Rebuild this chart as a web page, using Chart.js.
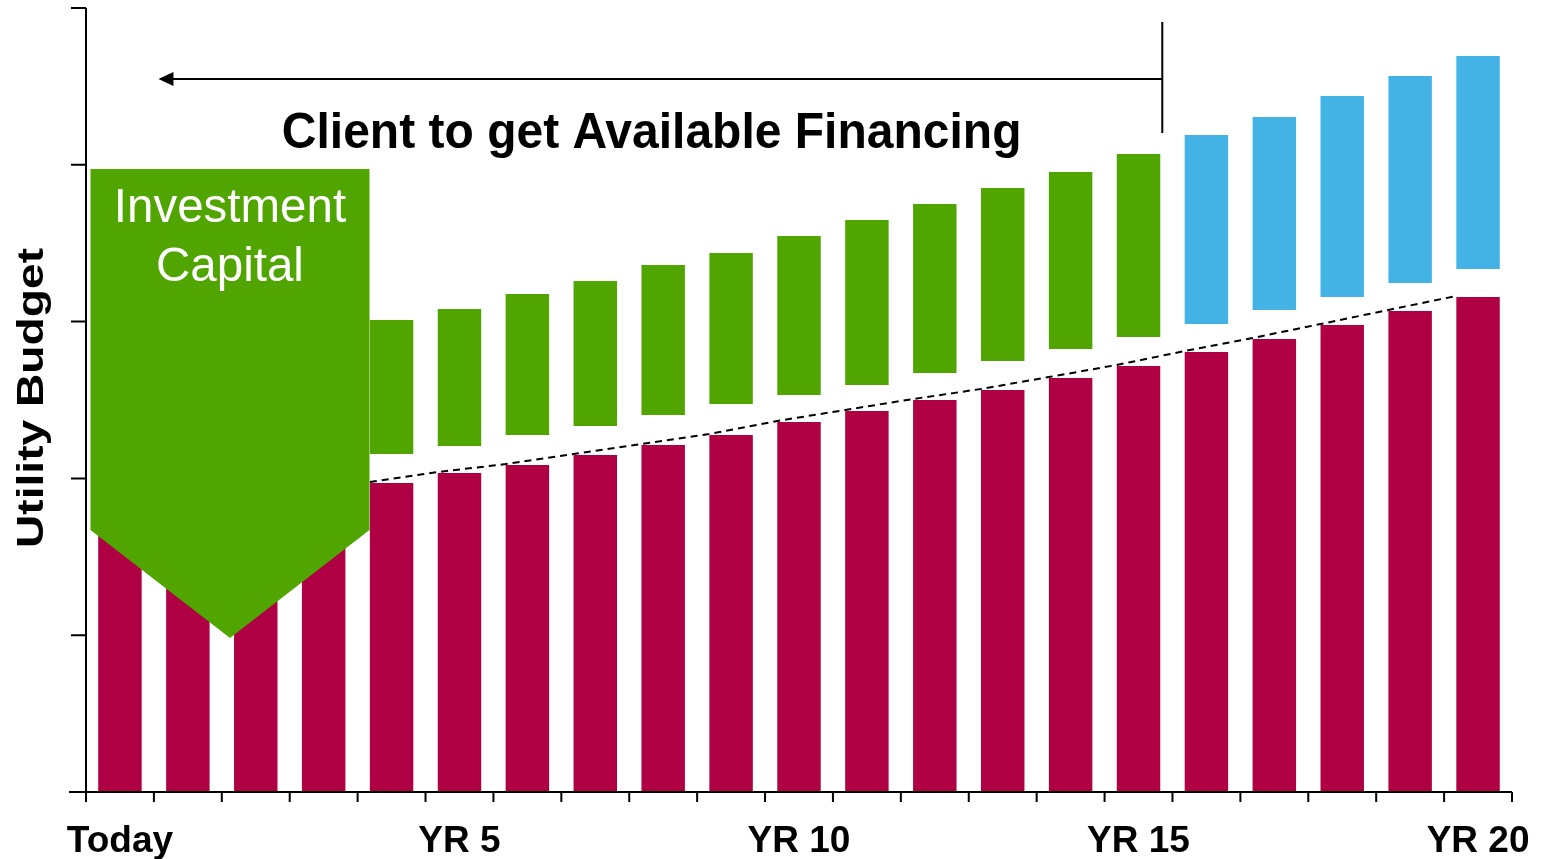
<!DOCTYPE html>
<html>
<head>
<meta charset="utf-8">
<title>Utility Budget</title>
<script src="https://cdn.jsdelivr.net/npm/chart.js@4.4.1/dist/chart.umd.min.js"></script>
<style>
  html, body { margin: 0; padding: 0; background: #fff; }
  canvas { display: block; }
</style>
</head>
<body>
<canvas id="chartBudget" width="1546" height="859"></canvas>
<script>
// Datos del gráfico
const categorias = ['Today', 'YR 1', 'YR 2', 'YR 3', 'YR 4', 'YR 5', 'YR 6', 'YR 7', 'YR 8', 'YR 9', 'YR 10',
    'YR 11', 'YR 12', 'YR 13', 'YR 14', 'YR 15', 'YR 16', 'YR 17', 'YR 18', 'YR 19', 'YR 20'];

// presupuesto base (barras rojas)
const presupuestoBase = [1.72, 1.78, 1.84, 1.905, 1.971, 2.034, 2.085, 2.149, 2.213, 2.277, 2.36,
    2.43, 2.5, 2.564, 2.64, 2.717, 2.806, 2.889, 2.978, 3.068, 3.157];

// barras flotantes verdes (financiamiento) [inferior, superior]
const financiamiento = [null, null, null, null,
    [2.156, 3.010], [2.207, 3.080], [2.277, 3.176], [2.334, 3.259], [2.404, 3.361], [2.474, 3.438],
    [2.532, 3.546], [2.596, 3.648], [2.672, 3.750], [2.749, 3.852], [2.825, 3.954], [2.902, 4.069],
    null, null, null, null, null];

// barras flotantes azules (después del año 15)
const excedente = [null, null, null, null, null, null, null, null, null, null, null,
    null, null, null, null, null,
    [2.985, 4.190], [3.074, 4.305], [3.157, 4.439], [3.246, 4.566], [3.335, 4.694]];

const etiquetasVisibles = ['Today', 'YR 5', 'YR 10', 'YR 15', 'YR 20'];
const ticksY = [0, 1, 2, 3, 4, 5];

const FUENTE = '"Liberation Sans", Arial, sans-serif';
const ROJO = '#B00044';
const VERDE = '#50A500';
const AZUL = '#43B3E6';

// Dibujo de ejes, flecha, forma "Investment Capital" y textos
const anotaciones = {
    id: 'anotaciones',
    afterDatasetsDraw(chart) {
        const ctx = chart.ctx;
        const x = chart.scales.x;
        const y = chart.scales.y;
        const area = chart.chartArea;
        const barras = chart.getDatasetMeta(0).data;

        // línea punteada sobre las barras rojas
        ctx.save();
        ctx.strokeStyle = '#000';
        ctx.lineWidth = 2;
        ctx.setLineDash([7, 5]);
        ctx.beginPath();
        for (let i = 4; i < presupuestoBase.length; i++) {
            const px = x.getPixelForValue(i) - barras[i].width / 2;
            const py = y.getPixelForValue(presupuestoBase[i]) - 1;
            if (i === 4) ctx.moveTo(px, py); else ctx.lineTo(px, py);
        }
        ctx.stroke();
        ctx.restore();

        // forma verde "Investment Capital"
        const izq = x.getPixelForValue(-0.434);
        const der = x.getPixelForValue(3.675);
        const arriba = y.getPixelForValue(3.973);
        const hombro = y.getPixelForValue(1.671);
        const punta = y.getPixelForValue(0.982);
        ctx.save();
        ctx.fillStyle = VERDE;
        ctx.beginPath();
        ctx.moveTo(izq, arriba);
        ctx.lineTo(der, arriba);
        ctx.lineTo(der, hombro);
        ctx.lineTo((izq + der) / 2, punta);
        ctx.lineTo(izq, hombro);
        ctx.closePath();
        ctx.fill();
        ctx.fillStyle = '#fff';
        ctx.font = '47.5px ' + FUENTE;
        ctx.textAlign = 'center';
        ctx.textBaseline = 'alphabetic';
        ctx.fillText('Investment', (izq + der) / 2, arriba + 53);
        ctx.fillText('Capital', (izq + der) / 2, arriba + 112);
        ctx.restore();

        // ejes
        ctx.save();
        ctx.strokeStyle = '#000';
        ctx.lineWidth = 2;
        ctx.beginPath();
        ctx.moveTo(area.left, y.getPixelForValue(5));
        ctx.lineTo(area.left, area.bottom);
        ctx.moveTo(area.left - 17, area.bottom);
        ctx.lineTo(area.right, area.bottom);
        ticksY.forEach(v => {
            const py = y.getPixelForValue(v);
            ctx.moveTo(area.left - 15, py);
            ctx.lineTo(area.left, py);
        });
        for (let i = 0; i <= categorias.length; i++) {
            const px = x.getPixelForValue(i - 0.5);
            ctx.moveTo(px, area.bottom);
            ctx.lineTo(px, area.bottom + 10);
        }
        ctx.stroke();

        // flecha
        const yFlecha = y.getPixelForValue(4.547);
        const xIni = x.getPixelForValue(0.567);
        const xFin = x.getPixelForValue(15.35);
        ctx.beginPath();
        ctx.moveTo(xIni + 10, yFlecha);
        ctx.lineTo(xFin, yFlecha);
        ctx.moveTo(xFin, y.getPixelForValue(4.911));
        ctx.lineTo(xFin, y.getPixelForValue(4.203));
        ctx.stroke();
        ctx.fillStyle = '#000';
        ctx.beginPath();
        ctx.moveTo(xIni, yFlecha);
        ctx.lineTo(xIni + 15, yFlecha - 7);
        ctx.lineTo(xIni + 15, yFlecha + 7);
        ctx.closePath();
        ctx.fill();

        // texto de la flecha
        ctx.font = 'bold 48px ' + FUENTE;
        ctx.textAlign = 'center';
        ctx.textBaseline = 'alphabetic';
        ctx.save();
        ctx.translate(x.getPixelForValue(7.83), y.getPixelForValue(4.107));
        ctx.scale(1, 1.06);
        ctx.fillText('Client to get Available Financing', 0, 0);
        ctx.restore();

        // título del eje Y (texto ensanchado)
        ctx.font = 'bold 37px ' + FUENTE;
        const texto = 'Utility Budget';
        const ancho = ctx.measureText(texto).width;
        ctx.save();
        ctx.translate(43, 398);
        ctx.rotate(-Math.PI / 2);
        ctx.scale(300 / ancho, 1);
        ctx.textAlign = 'center';
        ctx.fillText(texto, 0, 0);
        ctx.restore();
        ctx.restore();
    }
};

new Chart(document.getElementById('chartBudget'), {
    type: 'bar',
    data: {
        labels: categorias,
        datasets: [
            { label: 'Presupuesto', data: presupuestoBase, backgroundColor: ROJO, grouped: false, order: 3 },
            { label: 'Financiamiento', data: financiamiento, backgroundColor: VERDE, grouped: false, order: 2 },
            { label: 'Excedente', data: excedente, backgroundColor: AZUL, grouped: false, order: 1 }
        ]
    },
    options: {
        responsive: false,
        animation: false,
        devicePixelRatio: 1,
        categoryPercentage: 1,
        barPercentage: 0.64,
        layout: { padding: { top: 8, right: 34, left: 0, bottom: 0 } },
        plugins: {
            legend: { display: false },
            tooltip: { enabled: false }
        },
        scales: {
            x: {
                offset: true,
                grid: { display: false, drawTicks: false },
                border: { display: false },
                ticks: {
                    autoSkip: false,
                    maxRotation: 0,
                    color: '#000',
                    padding: 28,
                    font: { family: FUENTE, size: 37, weight: 'bold' },
                    callback: function (valor) {
                        const etiqueta = this.getLabelForValue(valor);
                        return etiquetasVisibles.includes(etiqueta) ? etiqueta : '';
                    }
                },
                afterFit: s => { s.height = 67; s.paddingLeft = 0; s.paddingRight = 0; }
            },
            y: {
                min: 0,
                max: 5,
                ticks: { display: false, stepSize: 1 },
                grid: { display: false, drawTicks: false },
                border: { display: false },
                afterFit: s => { s.width = 86; }
            }
        }
    },
    plugins: [anotaciones]
});
</script>
</body>
</html>
